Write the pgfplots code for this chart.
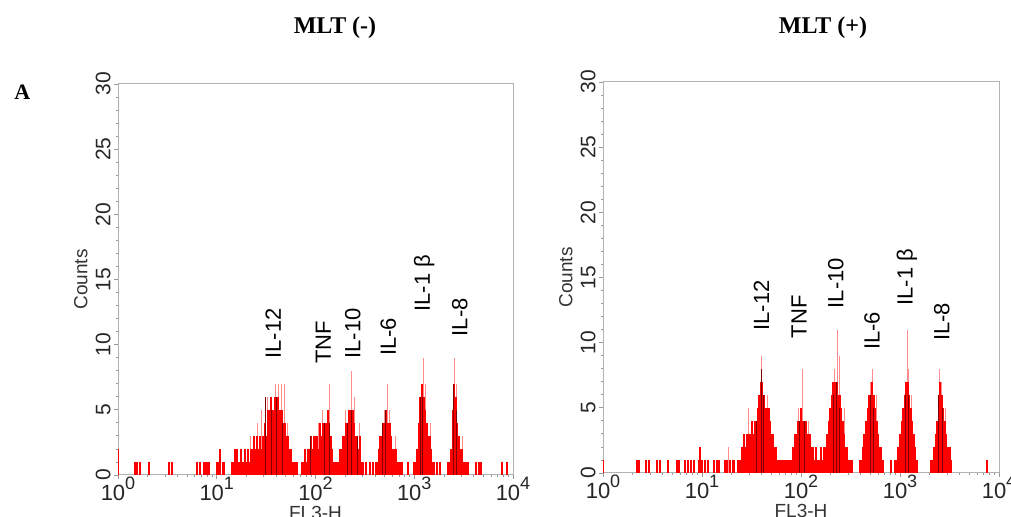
\documentclass[border=0pt]{standalone}
\usepackage{fontspec}
\setmainfont{Liberation Serif}
\setsansfont{Liberation Sans}
\usepackage{pgfplots}
\pgfplotsset{compat=1.18}
\usepackage{pgfplotstable}

% FL3-H channels (0..1024 = 10^0..10^4), counts per 4-channel bin
\pgfplotstableread[row sep=\\]{ch n\\
0 2\\ 44 1\\ 48 1\\ 56 1\\ 80 1\\ 132 1\\ 140 1\\ 204 1\\ 212 1\\ 224 1\\ 228 1\\ 232 1\\ 236 1\\
256 1\\ 260 1\\ 264 2\\ 272 1\\ 276 1\\ 296 1\\ 300 1\\ 304 2\\ 308 2\\ 312 1\\
316 1\\ 320 2\\ 324 1\\ 328 2\\ 332 1\\ 336 2\\ 340 1\\ 344 2\\
348 2\\ 352 3\\ 356 2\\ 360 3\\ 364 2\\ 368 3\\ 372 2\\ 376 3\\
380 4\\ 384 3\\ 388 5\\ 392 5\\ 396 6\\ 400 5\\ 404 5\\ 408 6\\ 412 5\\ 416 6\\ 420 5\\ 424 5\\
428 4\\ 432 4\\ 436 3\\ 440 3\\ 444 2\\ 448 2\\ 452 1\\ 456 1\\ 460 1\\ 464 1\\
476 1\\ 480 1\\ 484 2\\ 488 1\\ 492 2\\ 496 2\\ 500 3\\ 504 2\\ 508 3\\ 512 3\\ 516 3\\ 520 2\\ 524 4\\
528 3\\ 532 4\\ 536 4\\ 540 4\\ 544 5\\ 548 4\\ 552 3\\ 556 2\\ 560 1\\ 564 1\\
568 1\\ 572 1\\ 576 2\\ 580 2\\ 584 3\\ 588 3\\ 592 4\\ 596 4\\ 600 5\\ 604 5\\ 608 5\\ 612 4\\
616 3\\ 620 3\\ 624 2\\ 628 3\\ 632 1\\ 636 1\\ 644 1\\ 652 1\\ 660 1\\
668 1\\ 672 1\\ 676 2\\ 680 3\\ 684 3\\ 688 4\\ 692 4\\ 696 5\\ 700 4\\ 704 4\\ 708 3\\ 712 2\\ 716 2\\
720 2\\ 724 1\\ 728 1\\ 732 1\\ 736 1\\ 752 1\\
768 1\\ 772 1\\ 776 2\\ 780 4\\ 784 6\\ 788 7\\ 792 6\\ 796 5\\ 800 4\\ 804 3\\ 808 3\\ 812 2\\ 816 1\\ 820 1\\
828 1\\ 836 1\\
856 1\\ 860 1\\ 864 2\\ 868 5\\ 872 7\\ 876 6\\ 880 4\\ 884 3\\ 888 2\\ 892 2\\ 896 1\\ 900 1\\ 904 1\\ 908 1\\
928 1\\ 936 1\\ 940 1\\ 996 1\\ 1008 1\\
}\histL

\pgfplotstableread[row sep=\\]{ch n\\
0 2\\ 264 2\\ 344 3\\ 360 4\\ 372 5\\ 386 6\\ 404 6\\ 408 7\\ 416 7\\ 424 7\\ 432 7\\ 440 4\\
520 4\\ 530 5\\ 547 7\\ 590 5\\ 606 8\\ 612 6\\ 626 4\\ 690 5\\ 698 7\\ 704 5\\ 720 3\\
791 9\\ 796 7\\ 810 4\\ 873 9\\ 878 7\\ 892 3\\
}\spikeL

\pgfplotstableread[row sep=\\]{ch n\\
382 6\\ 396 5\\ 410 6\\ 426 4\\ 498 3\\ 534 4\\ 548 4\\ 594 4\\ 604 5\\ 620 3\\
686 4\\ 694 5\\ 784 6\\ 790 6\\ 870 7\\ 876 5\\
}\darkL

\pgfplotstableread[row sep=\\]{ch n\\
0 1\\ 88 1\\ 92 1\\ 112 1\\ 120 1\\ 140 1\\ 148 1\\ 168 1\\ 192 1\\ 196 1\\
212 1\\ 220 1\\ 228 1\\ 236 1\\ 248 1\\ 252 2\\ 256 1\\ 264 1\\ 272 1\\ 288 1\\ 296 1\\ 300 1\\
316 1\\ 320 1\\ 328 1\\ 336 1\\ 340 1\\ 348 1\\ 352 1\\ 356 1\\
360 2\\ 364 3\\ 368 2\\ 372 3\\ 376 3\\ 380 3\\ 384 4\\ 388 3\\ 392 4\\ 396 4\\ 400 5\\ 404 6\\
408 7\\ 412 7\\ 416 6\\ 420 5\\ 424 5\\ 428 5\\ 432 4\\ 436 3\\ 440 3\\ 444 2\\ 448 2\\ 452 1\\ 456 1\\
460 1\\ 464 1\\ 468 1\\ 472 1\\ 476 1\\ 480 1\\ 484 1\\
488 1\\ 492 2\\ 496 3\\ 500 3\\ 504 4\\ 508 4\\ 512 5\\ 516 4\\ 520 4\\ 524 4\\ 528 3\\ 532 3\\
536 3\\ 540 2\\ 544 2\\ 548 1\\ 552 2\\ 556 1\\ 560 1\\ 564 2\\ 568 1\\
572 2\\ 576 2\\ 580 3\\ 584 4\\ 588 5\\ 592 6\\ 596 7\\ 600 7\\ 604 7\\ 608 6\\ 612 6\\ 616 5\\
620 4\\ 624 3\\ 628 2\\ 632 2\\ 636 1\\ 640 1\\ 644 1\\
664 1\\ 668 1\\ 672 2\\ 676 3\\ 680 4\\ 684 5\\ 688 6\\ 692 6\\ 696 7\\ 700 6\\ 704 5\\ 708 4\\ 712 3\\
716 2\\ 720 2\\ 724 1\\ 744 1\\
756 1\\ 760 1\\ 764 2\\ 768 3\\ 772 4\\ 776 5\\ 780 6\\ 784 7\\ 788 7\\ 792 6\\ 796 5\\ 800 4\\ 804 3\\
808 2\\ 812 1\\
848 1\\ 852 1\\ 856 2\\ 860 3\\ 864 4\\ 868 6\\ 872 7\\ 876 6\\ 880 5\\ 884 4\\ 888 3\\ 892 2\\ 896 2\\
900 1\\ 992 1\\
}\histR

\pgfplotstableread[row sep=\\]{ch n\\
252 2\\ 324 2\\ 376 5\\ 400 5\\ 410 9\\ 416 6\\ 426 6\\ 504 5\\ 516 8\\ 530 4\\
598 8\\ 605 11\\ 612 9\\ 624 5\\ 690 7\\ 696 8\\ 706 6\\ 786 11\\ 790 8\\ 798 6\\ 869 8\\ 874 7\\ 884 5\\
}\spikeR

\pgfplotstableread[row sep=\\]{ch n\\
396 4\\ 408 8\\ 414 6\\ 508 4\\ 520 4\\ 596 6\\ 604 7\\ 612 5\\ 692 6\\ 700 5\\
782 6\\ 790 6\\ 868 6\\ 876 5\\
}\darkR

\newcommand\dec[1]{10\raisebox{0.5em}{\fontsize{9}{9}\selectfont #1}}
\newcommand\lab{\sffamily\fontsize{11}{12}\selectfont}

\pgfplotsset{flow/.style={
  scale only axis, height=195.5pt,
  xmin=0, xmax=1024, ymin=0, ymax=30,
  axis line style={black!30, line width=0.5pt},
  xtick={0,256,512,768,1024},
  xticklabels={\dec0,\dec1,\dec2,\dec3,\dec4},
  minor xtick={77.1,122.1,154.1,178.9,199.2,216.3,231.2,244.3,
    333.1,378.1,410.1,434.9,455.2,472.3,487.2,500.3,
    589.1,634.1,666.1,690.9,711.2,728.3,743.2,756.3,
    845.1,890.1,922.1,946.9,967.2,984.3,999.2,1012.3},
  ytick={0,5,10,15,20,25,30},
  yticklabels={0,5,10,15,20,25,30},
  minor ytick={1,2,3,4,6,7,8,9,11,12,13,14,16,17,18,19,21,22,23,24,26,27,28,29},
  tick style={black!40, line width=0.4pt},
  major tick length=2pt, minor tick length=1pt,
  tick align=outside, xtick pos=bottom, ytick pos=left,
  xticklabel style={font=\sffamily\fontsize{11}{11}\selectfont, text=black!85, yshift=2pt, inner sep=1pt},
  yticklabel style={font=\sffamily\fontsize{10.5}{11}\selectfont, text=black!85, rotate=90, anchor=south, inner sep=1.5pt},
  xlabel={FL3-H}, ylabel={Counts},
  label style={font=\sffamily\fontsize{9.5}{11}\selectfont, text=black!80},
  xlabel style={yshift=-1.5pt, inner sep=0pt},
  ylabel style={yshift=-1pt},
}}

\begin{document}
\begin{tikzpicture}
\path[use as bounding box] (0,0) rectangle (505.5pt,258.5pt);

\node[font=\bfseries\fontsize{12}{14}\selectfont] at (167.5pt,244.5pt) {MLT (-)};
\node[font=\bfseries\fontsize{12}{14}\selectfont] at (411.5pt,244.5pt) {MLT (+)};
\node[font=\bfseries\fontsize{11}{13}\selectfont, anchor=west, inner sep=0pt] at (7pt,212.5pt) {A};

\begin{axis}[flow, width=197.5pt, at={(59pt,21pt)}, anchor=south west]
\addplot[ycomb, draw=red!45, line width=0.3pt, mark=none] table {\spikeL};
\addplot[ycomb, draw=red, line width=1pt, mark=none] table {\histL};
\addplot[ycomb, draw=red!50!black, line width=0.25pt, mark=none] table {\darkL};
\node[font=\lab, rotate=90, anchor=west] at (axis cs:402,8.4) {IL-12};
\node[font=\lab, rotate=90, anchor=west] at (axis cs:532,8.0) {TNF};
\node[font=\lab, rotate=90, anchor=west] at (axis cs:609,8.4) {IL-10};
\node[font=\lab, rotate=90, anchor=west] at (axis cs:701,8.6) {IL-6};
\node[font=\lab, rotate=90, anchor=west] at (axis cs:794,12.0) {IL-1 β};
\node[font=\lab, rotate=90, anchor=west] at (axis cs:886,10.1) {IL-8};
\end{axis}

\begin{axis}[flow, width=198pt, at={(301.5pt,22pt)}, anchor=south west]
\addplot[ycomb, draw=red!45, line width=0.3pt, mark=none] table {\spikeR};
\addplot[ycomb, draw=red, line width=1pt, mark=none] table {\histR};
\addplot[ycomb, draw=red!50!black, line width=0.25pt, mark=none] table {\darkR};
\node[font=\lab, rotate=90, anchor=west] at (axis cs:410,10.4) {IL-12};
\node[font=\lab, rotate=90, anchor=west] at (axis cs:507,9.8) {TNF};
\node[font=\lab, rotate=90, anchor=west] at (axis cs:602,12.1) {IL-10};
\node[font=\lab, rotate=90, anchor=west] at (axis cs:696,8.9) {IL-6};
\node[font=\lab, rotate=90, anchor=west] at (axis cs:786,12.3) {IL-1 β};
\node[font=\lab, rotate=90, anchor=west] at (axis cs:876,9.6) {IL-8};
\end{axis}
\end{tikzpicture}
\end{document}
